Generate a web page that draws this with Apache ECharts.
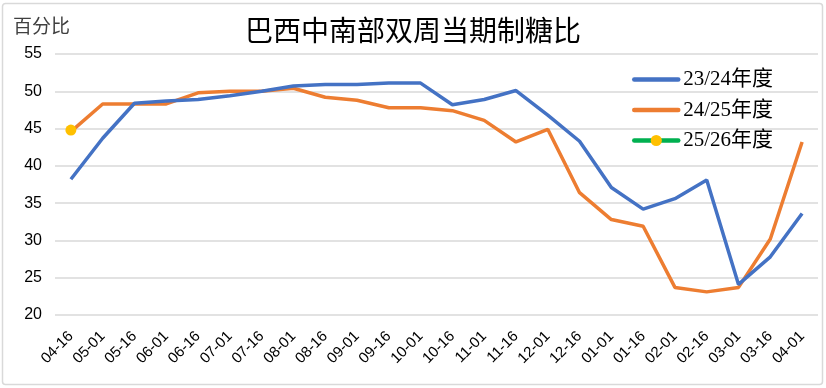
<!DOCTYPE html>
<html>
<head>
<meta charset="utf-8">
<script src="https://cdn.jsdelivr.net/npm/echarts@6/dist/echarts.min.js"></script>
<style>
html,body{margin:0;padding:0;background:#fff;}
#c{width:826px;height:388px;}
</style>
</head>
<body>
<div id="c"></div>
<script>
const categories = ["04-16","05-01","05-16","06-01","06-16","07-01","07-16","08-01","08-16","09-01","09-16","10-01","10-16","11-01","11-16","12-01","12-16","01-01","01-16","02-01","02-16","03-01","03-16","04-01"];
const s2324 = [38.2,43.7,48.4,48.7,48.9,49.4,50.0,50.7,50.9,50.9,51.1,51.1,48.2,48.9,50.1,46.8,43.3,37.1,34.2,35.6,38.1,24.1,27.8,33.6];
const s2425 = [44.6,48.3,48.3,48.3,49.8,50.0,50.0,50.4,49.2,48.8,47.8,47.8,47.4,46.1,43.2,44.9,36.4,32.8,31.9,23.7,23.1,23.7,30.2,43.2];
const s2526 = [44.8];
const yTicks = {min:20, max:55, interval:5};
const names = ["23/24年度","24/25年度","25/26年度"];

const chart = echarts.init(document.getElementById('c'), null, {renderer:'canvas'});
const latin = '"Liberation Sans","Open Sans","Noto Sans CJK SC",sans-serif';
const serif = '"Liberation Serif","Noto Sans CJK SC",serif';
const cjk = '"Noto Sans CJK SC",sans-serif';
chart.setOption({
  animation:false,
  backgroundColor:'#fff',
  graphic:[{type:'rect', shape:{x:2.5,y:3.5,width:820,height:381,r:3}, style:{fill:'none',stroke:'#d9d9d9',lineWidth:1.5}, silent:true, z:-1}],
  title:[{
    text:'巴西中南部双周当期制糖比',
    left:'center', top:16, padding:0,
    textStyle:{fontSize:28, fontWeight:'normal', color:'#000', fontFamily:cjk}
  },{
    text:'百分比', left:13, top:16, padding:0,
    textStyle:{fontSize:19, fontWeight:'normal', color:'#404040', fontFamily:cjk}
  }],
  legend:{
    orient:'vertical', left:632, top:69, padding:0,
    itemWidth:44, itemHeight:14, itemGap:9.5,
    data:[
      {name:names[0], itemStyle:{opacity:0}, lineStyle:{width:4.5, cap:'round'}},
      {name:names[1], itemStyle:{opacity:0}, lineStyle:{width:4.5, cap:'round'}},
      {name:names[2], lineStyle:{width:4.5, cap:'round'}}
    ],
    textStyle:{fontSize:21, color:'#000', fontFamily:serif}
  },
  grid:{left:55, right:8, top:54, bottom:73},
  xAxis:{
    type:'category', data:categories, boundaryGap:true,
    axisLine:{show:false}, axisTick:{show:false},
    axisLabel:{rotate:45, fontSize:15, color:'#000', margin:19, interval:0, fontFamily:latin}
  },
  yAxis:{
    type:'value', min:yTicks.min, max:yTicks.max, interval:yTicks.interval,
    axisLine:{show:false}, axisTick:{show:false},
    axisLabel:{fontSize:16, color:'#000', margin:13, fontFamily:latin},
    splitLine:{lineStyle:{color:'#d9d9d9', width:1.5}}
  },
  series:[
    {name:names[0], type:'line', data:s2324, symbol:'none', showSymbol:false,
     lineStyle:{color:'#4472C4', width:3.5}, itemStyle:{color:'#4472C4'}, z:3},
    {name:names[1], type:'line', data:s2425, symbol:'none', showSymbol:false,
     lineStyle:{color:'#ED7D31', width:3.5}, itemStyle:{color:'#ED7D31'}, z:2},
    {name:names[2], type:'line', data:s2526, symbol:'circle', symbolSize:11, showSymbol:true,
     lineStyle:{color:'#00B050', width:3.5}, itemStyle:{color:'#FFC000'}, z:4}
  ]
});
</script>
</body>
</html>
